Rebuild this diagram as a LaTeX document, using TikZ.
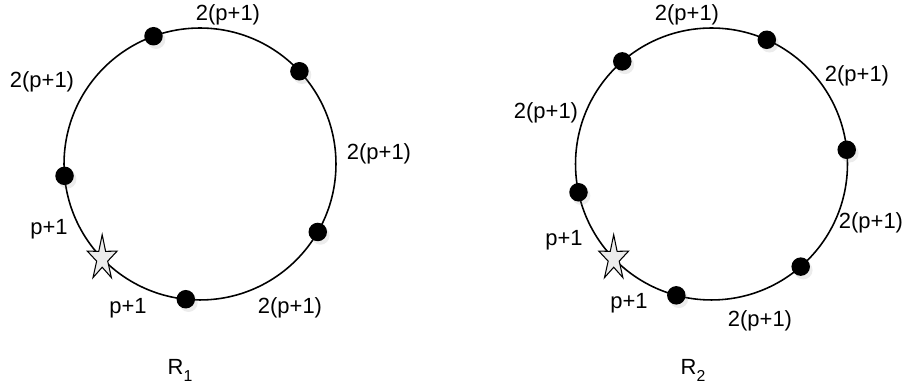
\documentclass[tikz,border=0pt]{standalone}
\usepackage{fontspec}
\setmainfont{Liberation Sans}
\usetikzlibrary{shapes.geometric,shadows}

\begin{document}
\begin{tikzpicture}[x=0.02cm,y=0.02cm, every node/.style={font=\fontsize{12.5}{14}\selectfont},
ring/.style={draw,circle,line width=.9pt,minimum size=5.44cm,inner sep=0pt,outer sep=0pt},
dot/.style={circle,fill=black,minimum size=.37cm,inner sep=0pt,
  drop shadow={shadow xshift=1.5pt,shadow yshift=-2pt,opacity=.15}},
mark star/.style={star,star points=5,star point ratio=2.7,draw,fill=gray!15,
  line width=.6pt,minimum size=.95cm,inner sep=0pt,xscale=.66}]
\useasboundingbox (0,0) rectangle (907,388);
% first ring
\node[ring] (r1) at (200,224) {};
\node[mark star] (s1) at (r1.224) {};
\foreach \a/\n in {110.6/1,43.8/2,-30.7/3,264.7/4,185.9/5}
  \node[dot] (a\n) at (r1.\a) {};
\node (la1) at (228,373) {2(p+1)};
\node (la2) at (379,234) {2(p+1)};
\node (la3) at (290,80) {2(p+1)};
\node (la4) at (128,80) {p+1};
\node (la5) at (49,159) {p+1};
\node (la6) at (42,306) {2(p+1)};
\node (n1) at (180,18) {R\raisebox{-.6ex}{\fontsize{9}{9}\selectfont 1}};
% second ring
\node[ring] (r2) at (711.5,224) {};
\node[mark star] (s2) at (r2.224) {};
\foreach \a/\n in {131.3/1,66.4/2,6.7/3,-49/4,255.9/5,192.8/6}
  \node[dot] (b\n) at (r2.\a) {};
\node (lb1) at (687,373) {2(p+1)};
\node (lb2) at (857,312) {2(p+1)};
\node (lb3) at (871,165) {2(p+1)};
\node (lb4) at (760,67) {2(p+1)};
\node (lb5) at (629,85) {p+1};
\node (lb6) at (564,148) {p+1};
\node (lb7) at (546,275) {2(p+1)};
\node (n2) at (693,18) {R\raisebox{-.6ex}{\fontsize{9}{9}\selectfont 2}};
\end{tikzpicture}
\end{document}
